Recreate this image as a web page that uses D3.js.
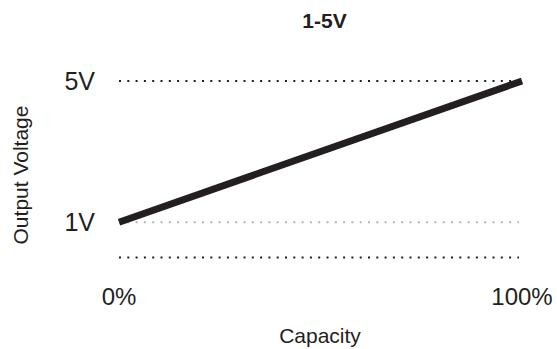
<!DOCTYPE html>
<html><head><meta charset="utf-8">
<script src="https://cdn.jsdelivr.net/npm/d3@7"></script>
<style>body{margin:0;background:#fff}svg{display:block;font-family:"Liberation Sans",Arial,sans-serif}</style>
</head><body>
<div id="c"></div>
<script>
const title = "1-5V";
const capacity = [0, 100];
const voltage = [1, 5];
const yTicks = [1, 5];
const yTickLabels = ["1V", "5V"];
const xTicks = [0, 100];
const xTickLabels = ["0%", "100%"];
const gridLevels = [0, 1, 5];

const W = 557, H = 349;
const svg = d3.select("#c").append("svg").attr("width", W).attr("height", H);
const x = d3.scaleLinear().domain([0, 100]).range([119, 522]);
const y = d3.scaleLinear().domain([0, 5]).range([257.5, 81]);

// grid dotted lines
svg.selectAll("line.grid").data(gridLevels).enter().append("line")
  .attr("x1", x(0)).attr("x2", x(100) - 3)
  .attr("y1", d => y(d)).attr("y2", d => y(d))
  .attr("stroke", d => d === 1 ? "#b5b5b5" : "#231f20")
  .attr("stroke-width", 2)
  .attr("stroke-dasharray", "2,6.3");

// line
const line = d3.line().x(d => x(d[0])).y(d => y(d[1]));
svg.append("path").datum(capacity.map((c, i) => [c, voltage[i]]))
  .attr("d", line).attr("fill", "none")
  .attr("stroke", "#231f20").attr("stroke-width", 7);

// y tick labels
svg.selectAll("text.yt").data(yTicks).enter().append("text")
  .attr("x", 95).attr("y", d => y(d) + 8.5)
  .attr("text-anchor", "end").attr("font-size", 25).attr("fill", "#231f20")
  .text((d, i) => yTickLabels[i]);

// x tick labels
svg.selectAll("text.xt").data(xTicks).enter().append("text")
  .attr("x", d => x(d)).attr("y", 305)
  .attr("text-anchor", "middle").attr("font-size", 24).attr("fill", "#231f20")
  .text((d, i) => xTickLabels[i]);

svg.append("text").attr("x", 324.5).attr("y", 28).attr("text-anchor", "middle")
  .attr("font-size", 21).attr("font-weight", "bold").attr("fill", "#231f20").text(title);

svg.append("text").attr("x", 320).attr("y", 343).attr("text-anchor", "middle")
  .attr("font-size", 21).attr("fill", "#231f20").text("Capacity");

svg.append("text").attr("transform", "translate(28,175) rotate(-90)")
  .attr("text-anchor", "middle").attr("font-size", 21).attr("fill", "#231f20").text("Output Voltage");
</script>
</body></html>
